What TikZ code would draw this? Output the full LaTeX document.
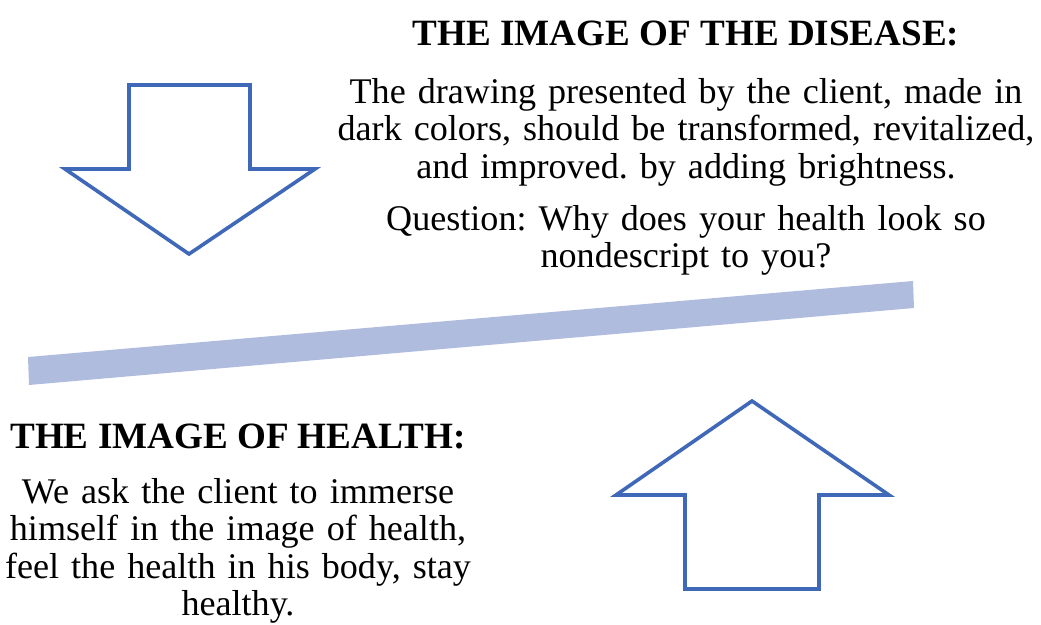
\documentclass[tikz,border=0pt]{standalone}
\usepackage{fontspec}
\setmainfont{Liberation Serif}
\frenchspacing
\definecolor{arrowblue}{HTML}{4068B8}
\definecolor{barblue}{HTML}{B0BCDE}
\begin{document}
\begin{tikzpicture}[x=1pt,y=-1pt,
  blockarrow/.style={draw=arrowblue,line width=3.6pt,fill=white,line join=miter},
  titletext/.style={anchor=base,inner sep=0pt,font=\fontsize{37.1pt}{37.5pt}\selectfont\bfseries},
  bodytext/.style={anchor=base,inner sep=0pt,text width=1000pt,align=center,font=\fontsize{36.1pt}{37.5pt}\selectfont\frenchspacing}]
\useasboundingbox (0,0) rectangle (1041,624);
% down arrow
\draw[blockarrow] (129,85) -- (250,85) -- (250,169) -- (315,169) -- (189,254) -- (65,169) -- (129,169) -- cycle;
% up arrow
\draw[blockarrow] (685,589) -- (819,589) -- (819,495) -- (889,495) -- (752,401) -- (616,495) -- (685,495) -- cycle;
% bar
\fill[barblue] (28,357) -- (913,281) -- (914,308) -- (29,385) -- cycle;
% texts
\node[titletext] (t1) at (686,45) {THE IMAGE OF THE DISEASE:};
\node[bodytext] (b1) at (686,103) {The drawing presented by the client, made in\\dark colors, should be transformed, revitalized,\\and improved. by adding brightness.};
\node[bodytext] (q1) at (686,230) {Question: Why does your health look so\\nondescript to you?};
\node[titletext] (t2) at (238,448) {THE IMAGE OF HEALTH:};
\node[bodytext] (b2) at (238,503) {We ask the client to immerse\\himself in the image of health,\\feel the health in his body, stay\\healthy.};
\end{tikzpicture}
\end{document}
